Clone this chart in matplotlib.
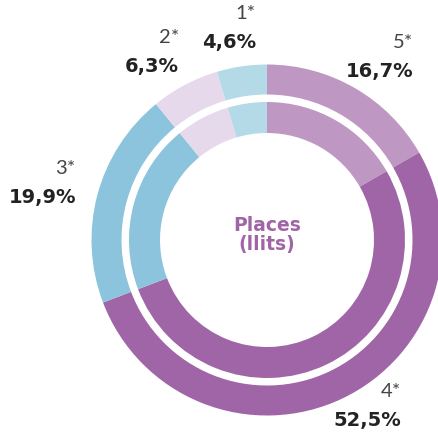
import matplotlib
matplotlib.use('Agg')
import matplotlib.pyplot as plt

# categories (hotel stars) and share of places, same split on both rings
cats = ['5*', '4*', '3*', '2*', '1*']
outer_vals = [16.7, 52.5, 19.9, 6.3, 4.6]
inner_vals = [16.7, 52.5, 19.9, 6.3, 4.6]
pct_labels = ['16,7%', '52,5%', '19,9%', '6,3%', '4,6%']
colors = ['#bf97c3', '#a065a6', '#8bc4dc', '#e6d9eb', '#b4dae7']

W, H = 439, 435
fig = plt.figure(figsize=(W / 100, H / 100), dpi=100)
ax = fig.add_axes([0, 0, 1, 1])

cx, cy = 267, H - 241
ax.pie(outer_vals, colors=colors, radius=175.5, center=(cx, cy), startangle=90,
       counterclock=False, wedgeprops=dict(width=30, linewidth=0))
ax.pie(inner_vals, colors=colors, radius=138, center=(cx, cy), startangle=90,
       counterclock=False, wedgeprops=dict(width=31, linewidth=0))

ax.set_xlim(0, W)
ax.set_ylim(0, H)
ax.set_aspect('equal')
ax.axis('off')

# label spots (right edge x, top y in pixels from top)
label_pos = {'5*': (413, 34), '4*': (401, 383), '3*': (76, 160),
             '2*': (179, 29), '1*': (256, 5)}
for c, p in zip(cats, pct_labels):
    x, y = label_pos[c]
    ax.text(x, H - y, c, ha='right', va='top', fontsize=14.5, color='#444444',
            family=['Lato', 'DejaVu Sans'], fontweight='normal')
    ax.text(x, H - y - 28, p, ha='right', va='top', fontsize=14, color='#222222',
            family=['DejaVu Sans'], fontweight='bold')

ax.text(cx, H - 235, 'Places\n(llits)', ha='center', va='center', fontsize=13.5,
        color='#a065a6', family=['DejaVu Sans'], fontweight='bold', linespacing=1.0)

fig.savefig('out.png', dpi=100)
